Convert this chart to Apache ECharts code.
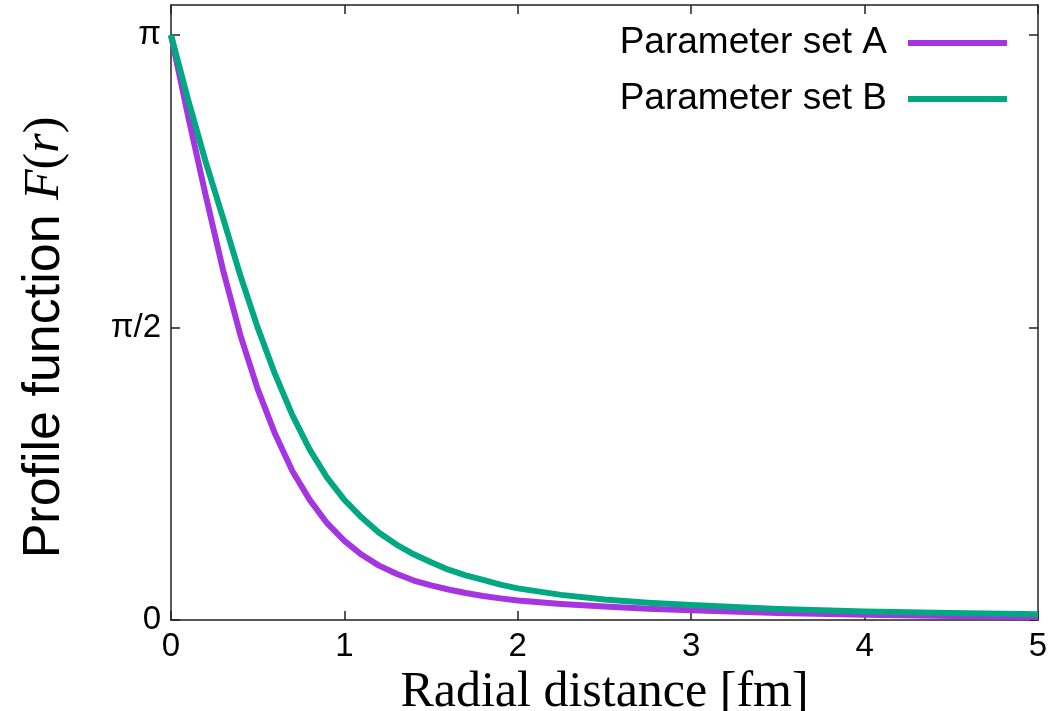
<!DOCTYPE html>
<html>
<head>
<meta charset="utf-8">
<script src="https://cdn.jsdelivr.net/npm/echarts@6/dist/echarts.min.js"></script>
<style>
  html, body { margin: 0; padding: 0; background: #fff; }
  #chart { width: 1064px; height: 711px; }
</style>
</head>
<body>
<div id="chart"></div>
<script>
// Radial grid (fm)
const radius = [0, 0.1, 0.2, 0.3, 0.4, 0.5, 0.6, 0.7, 0.8, 0.9, 1.0, 1.1, 1.2, 1.3, 1.4, 1.5, 1.6, 1.7, 1.8, 1.9, 2.0, 2.25, 2.5, 2.75, 3.0, 3.5, 4.0, 4.5, 5.0];
// Profile function F(r) for each parameter set
const profileA = [3.1416, 2.70, 2.28, 1.88, 1.53, 1.24, 1.00, 0.80, 0.645, 0.52, 0.425, 0.35, 0.292, 0.248, 0.212, 0.186, 0.164, 0.145, 0.129, 0.116, 0.105, 0.086, 0.072, 0.061, 0.053, 0.038, 0.028, 0.021, 0.016];
const profileB = [3.1416, 2.79, 2.46, 2.16, 1.85, 1.57, 1.32, 1.10, 0.915, 0.765, 0.645, 0.55, 0.468, 0.405, 0.353, 0.31, 0.27, 0.24, 0.215, 0.19, 0.17, 0.135, 0.11, 0.093, 0.08, 0.059, 0.046, 0.037, 0.031];
const seriesNames = ['Parameter set A', 'Parameter set B'];
// Y ticks at multiples of pi/2
const yTickValues = [0, Math.PI / 2, Math.PI];
const yTickLabels = ['0', 'π/2', 'π'];

const pairs = vals => radius.map((r, i) => [r, vals[i]]);
const frame = { onZero: false, lineStyle: { color: '#222', width: 1.5 } };
const tick = { inside: true, length: 9, lineStyle: { color: '#222', width: 1.5 } };
const yMax = Math.PI * 1.0513;
const tickFont = { fontFamily: 'Liberation Sans', fontSize: 33, color: '#000' };

const chart = echarts.init(document.getElementById('chart'));
chart.setOption({
  animation: false,
  backgroundColor: '#fff',
  grid: { left: 171, right: 26, top: 5, bottom: 91, outerBoundsMode: 'none' },
  legend: {
    right: 52, top: 18, orient: 'vertical', align: 'right',
    itemWidth: 99, itemHeight: 6, itemGap: 16, icon: 'rect',
    textStyle: { fontFamily: 'Liberation Sans', fontSize: 37, color: '#000', lineHeight: 40, padding: [0, 16, 0, 0] },
    data: seriesNames
  },
  xAxis: [{
    type: 'value', min: 0, max: 5, interval: 1,
    name: 'Radial distance [fm]', nameLocation: 'middle', nameGap: 30,
    nameTextStyle: { fontFamily: 'Liberation Serif', fontSize: 50, color: '#000' },
    axisLine: frame, axisTick: tick, splitLine: { show: false },
    axisLabel: Object.assign({ margin: 10 }, tickFont)
  }, {
    type: 'value', min: 0, max: 5, interval: 1, position: 'top',
    axisLine: frame, axisTick: tick, splitLine: { show: false }, axisLabel: { show: false }
  }],
  yAxis: [{
    type: 'value', min: 0, max: yMax,
    name: '{a|Profile function }{b|F}{c|(}{b|r}{c|)}',
    nameLocation: 'middle', nameRotate: 90, nameGap: 100,
    nameTextStyle: {
      padding: [0, 50, 0, 0],
      rich: {
        a: { fontFamily: 'Liberation Sans', fontSize: 52, color: '#000' },
        b: { fontFamily: 'Liberation Serif', fontStyle: 'italic', fontSize: 50, color: '#000' },
        c: { fontFamily: 'Liberation Serif', fontSize: 50, color: '#000' }
      }
    },
    axisLine: frame, splitLine: { show: false },
    axisTick: Object.assign({ customValues: yTickValues }, tick),
    axisLabel: Object.assign({
      customValues: yTickValues, margin: 10,
      formatter: v => yTickLabels[yTickValues.findIndex(t => Math.abs(t - v) < 1e-6)] || ''
    }, tickFont)
  }, {
    type: 'value', min: 0, max: yMax, position: 'right',
    axisLine: frame, splitLine: { show: false },
    axisTick: Object.assign({ customValues: yTickValues }, tick),
    axisLabel: { show: false }
  }],
  series: [
    { name: seriesNames[0], type: 'line', data: pairs(profileA), showSymbol: false,
      lineStyle: { color: '#a435e0', width: 6, join: 'round' }, itemStyle: { color: '#a435e0' } },
    { name: seriesNames[1], type: 'line', data: pairs(profileB), showSymbol: false,
      lineStyle: { color: '#02a882', width: 6, join: 'round' }, itemStyle: { color: '#02a882' } }
  ]
});
</script>
</body>
</html>
